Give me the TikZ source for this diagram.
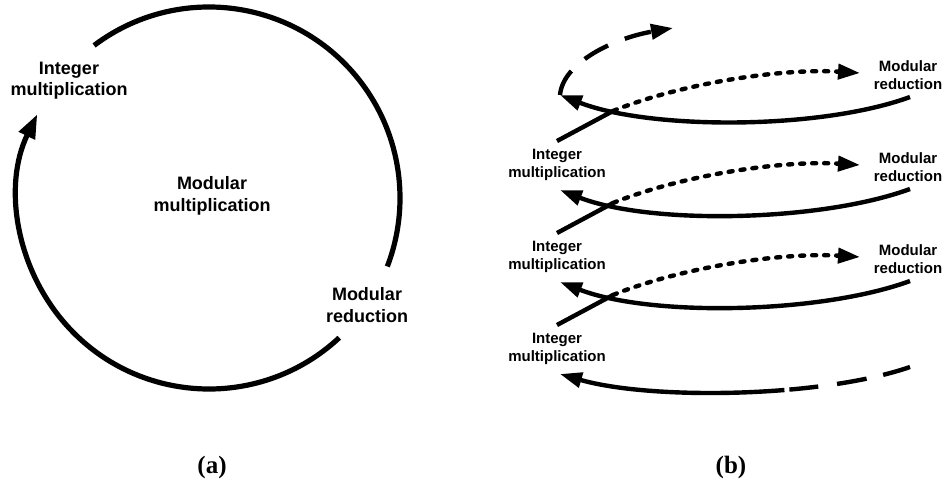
\documentclass[tikz,border=0pt]{standalone}
\usepackage{fontspec}
\setmainfont{Liberation Serif}
\newfontfamily\labfont{Liberation Sans}
\usetikzlibrary{arrows.meta,calc}
\begin{document}
\begin{tikzpicture}[x=1pt,y=-1pt,
  lbla/.style={font=\labfont\bfseries\fontsize{18}{21.5}\selectfont, align=center, inner sep=0pt},
  lblb/.style={font=\labfont\bfseries\fontsize{15}{18.5}\selectfont, align=center, inner sep=0pt},
  capt/.style={font=\bfseries\fontsize{25}{28}\selectfont, inner sep=0pt},
  linea/.style={line width=5.2pt},
  lineb/.style={line width=4.4pt},
  tipa/.style={-{Triangle[length=24pt,width=17pt]}},
  tipb/.style={-{Triangle[length=22pt,width=15pt]}},
  dotline/.style={lineb, line cap=round, dash pattern=on 4pt off 8pt},
  longdash/.style={lineb, dash pattern=on 27pt off 18pt},
]
\useasboundingbox (0,0) rectangle (949,487);

% ---------------- (a) ----------------
\coordinate (ca) at (209,198);
\node[lbla] (imA) at (69,80.5) {Integer\\multiplication};
\node[lbla] (mmA) at (212,196) {Modular\\multiplication};
\node[lbla] (mrA) at (367,305) {Modular\\reduction};
\draw[linea] (ca) ++(-127:191) coordinate (a1s) arc[start angle=-127, end angle=21, radius=191];
\draw[linea,tipa] (ca) ++(47:191) coordinate (a2s) arc[start angle=47, end angle=206, radius=191];
\node[capt] (capA) at (212,467) {(a)};

% ---------------- (b) ----------------
\node[lblb] (im1) at (557,165) {Integer\\multiplication};
\node[lblb] (im2) at (557,257) {Integer\\multiplication};
\node[lblb] (im3) at (557,349) {Integer\\multiplication};
\node[lblb] (mr1) at (908,75) {Modular\\reduction};
\node[lblb] (mr2) at (908,167) {Modular\\reduction};
\node[lblb] (mr3) at (908,259) {Modular\\reduction};
\node[capt] (capB) at (731,467) {(b)};

\coordinate (top) at ($(im1)+(3,-70)$);
\coordinate (topend) at (673,28);
\coordinate (botstart) at ($(im3)+(353,18)$);

% back curves (reduction -> next multiplication)
\draw[lineb,tipb] ($(mr1)+(2,22)$) .. controls +(-90,33) and +(90,35) .. (top);
\draw[lineb,tipb] ($(mr2)+(2,22)$) .. controls +(-90,33) and +(90,35) .. ($(im1)+(3,25)$);
\draw[lineb,tipb] ($(mr3)+(2,22)$) .. controls +(-90,33) and +(90,35) .. ($(im2)+(3,25)$);
% bottom incoming curve, dashed at its start
\draw[lineb,tipb,dash pattern=on 28pt off 17pt on 30pt off 19pt on 29pt off 5pt on 2000pt]
  (botstart) .. controls +(-90,31) and +(90,26) .. ($(im3)+(3,25)$);
% top continuation
\draw[longdash,tipb] (top) .. controls (563,62) and (615,38) .. (topend);

% front curves (multiplication -> reduction)
\foreach \k in {1,2,3}{
  \coordinate (x\k) at ($(im\k)+(56,-54)$);
  \draw[lineb] ($(im\k)+(0,-24)$) -- (x\k);
  \draw[dotline,tipb] (x\k) .. controls +(66,-27) and +(-80,-5) .. ($(mr\k)+(-48,-2)$);
}
\end{tikzpicture}
\end{document}
